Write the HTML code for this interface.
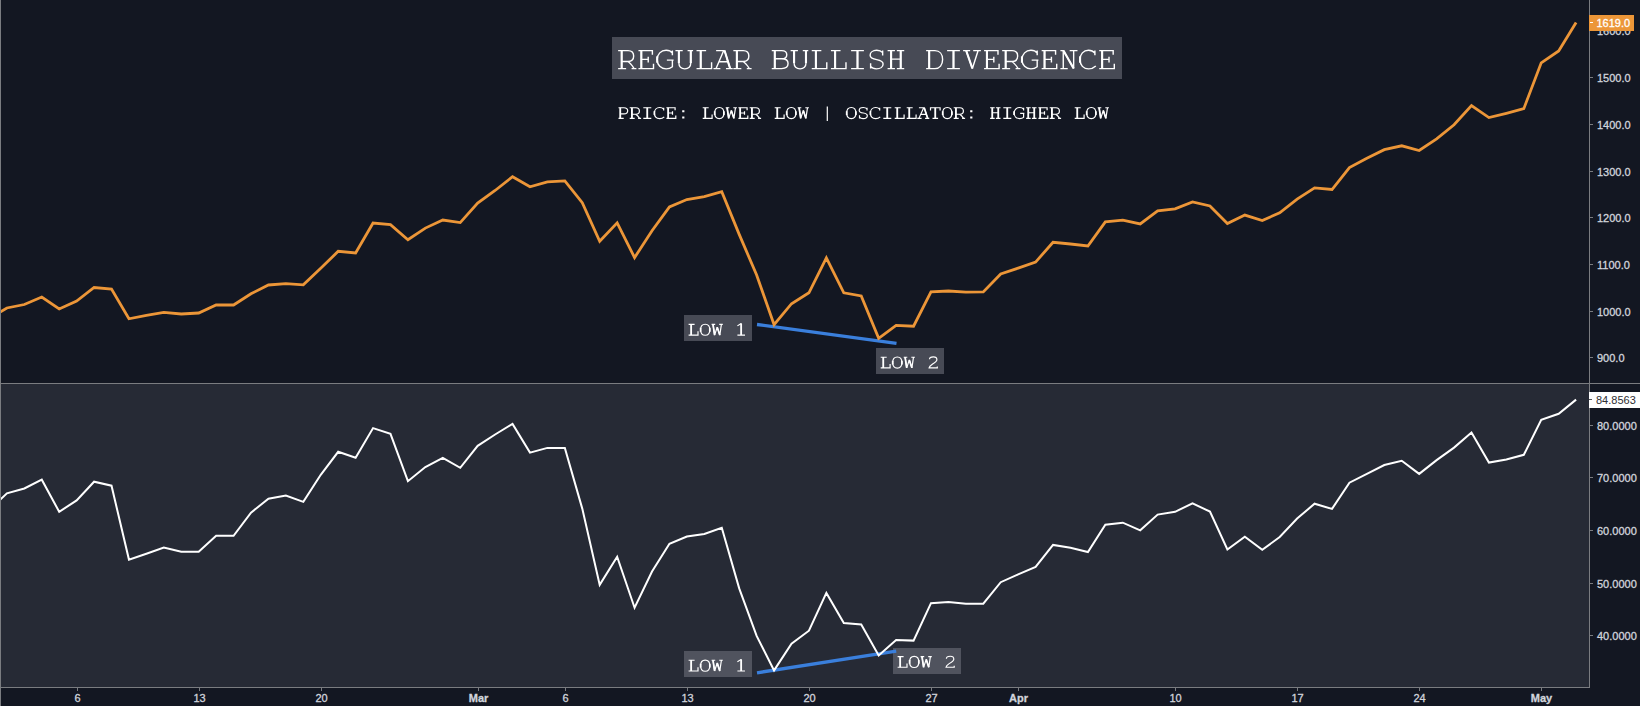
<!DOCTYPE html>
<html><head><meta charset="utf-8">
<style>
html,body{margin:0;padding:0;background:#131722;width:1640px;height:706px;overflow:hidden}
svg{display:block}
.ax text{font-family:"Liberation Sans",sans-serif;font-size:11px;fill:#d1d4dc;stroke:#d1d4dc;stroke-width:0.3}
.mono{font-family:"Liberation Mono",monospace;fill:#ffffff}
</style></head><body>
<svg width="1640" height="706" viewBox="0 0 1640 706">
<rect x="0" y="0" width="1640" height="706" fill="#131722"/>
<rect x="1" y="384" width="1588" height="303" fill="#262a35"/>
<!-- title -->
<rect x="612" y="37" width="510" height="42" fill="#474a55"/>
<g transform="translate(617.50,68.55) scale(0.03200,0.03050)" fill="none" stroke="#fff" stroke-width="43.7" stroke-linecap="butt" stroke-linejoin="miter" stroke-miterlimit="2.5"><path transform="translate(0,0)" d="M20,-590H330C450,-590 505,-520 505,-410C505,-300 440,-230 330,-230H130M130,-590V0M20,0H270M320,-230C390,-190 470,-80 520,0M440,0H590"/><path transform="translate(0,0)" d="M130,-590V0" stroke-width="65.6"/><path transform="translate(600,0)" d="M55,-590H490V-450M145,-590V0M55,0H525V-160M145,-300H360M360,-390V-200"/><path transform="translate(600,0)" d="M145,-590V0" stroke-width="65.6"/><path transform="translate(1200,0)" d="M515,-590V-440M515,-510C470,-570 400,-600 320,-600C160,-600 40,-470 40,-295C40,-110 160,10 320,10C400,10 470,-20 515,-60V-276M343,-276H553"/><path transform="translate(1200,0)" d="M40,-400V-190" stroke-width="65.6"/><path transform="translate(1800,0)" d="M10,-590H238M390,-590H562M118,-590V-180C118,-60 190,8 304,8C418,8 490,-60 490,-180V-590"/><path transform="translate(1800,0)" d="M118,-590V-180M490,-590V-180" stroke-width="65.6"/><path transform="translate(2400,0)" d="M70,-590H370M200,-590V0M70,0H540V-210"/><path transform="translate(2400,0)" d="M200,-590V0" stroke-width="65.6"/><path transform="translate(3000,0)" d="M82,-590H350M320,-590L80,0M345,-590L520,0M0,0H215M390,0H600M171,-224H454"/><path transform="translate(3000,0)" d="M345,-590L520,0" stroke-width="65.6"/><path transform="translate(3600,0)" d="M20,-590H330C450,-590 505,-520 505,-410C505,-300 440,-230 330,-230H130M130,-590V0M20,0H270M320,-230C390,-190 470,-80 520,0M440,0H590"/><path transform="translate(3600,0)" d="M130,-590V0" stroke-width="65.6"/><path transform="translate(4800,0)" d="M20,-590H330C440,-590 490,-540 490,-455C490,-370 430,-320 330,-320H115M330,-320C460,-320 530,-260 530,-165C530,-60 460,0 330,0H20M115,-590V0"/><path transform="translate(4800,0)" d="M115,-590V0" stroke-width="65.6"/><path transform="translate(5400,0)" d="M10,-590H238M390,-590H562M118,-590V-180C118,-60 190,8 304,8C418,8 490,-60 490,-180V-590"/><path transform="translate(5400,0)" d="M118,-590V-180M490,-590V-180" stroke-width="65.6"/><path transform="translate(6000,0)" d="M70,-590H370M200,-590V0M70,0H540V-210"/><path transform="translate(6000,0)" d="M200,-590V0" stroke-width="65.6"/><path transform="translate(6600,0)" d="M70,-590H370M200,-590V0M70,0H540V-210"/><path transform="translate(6600,0)" d="M200,-590V0" stroke-width="65.6"/><path transform="translate(7200,0)" d="M100,-590H500M300,-590V0M100,0H500"/><path transform="translate(7200,0)" d="M300,-590V0" stroke-width="65.6"/><path transform="translate(7800,0)" d="M486,-590V-430M486,-520C440,-575 380,-600 300,-600C180,-600 95,-530 95,-440C95,-350 170,-320 300,-295C430,-270 500,-230 500,-150C500,-50 415,10 290,10C210,10 145,-20 110,-70M110,-170V0"/><path transform="translate(8400,0)" d="M40,-590H270M330,-590H560M150,-590V0M450,-590V0M40,0H270M330,0H560M150,-310H450"/><path transform="translate(8400,0)" d="M150,-590V0M450,-590V0" stroke-width="65.6"/><path transform="translate(9600,0)" d="M45,-590H320C470,-590 560,-470 560,-295C560,-120 470,0 320,0H45M140,-590V0"/><path transform="translate(9600,0)" d="M140,-590V0" stroke-width="65.6"/><path transform="translate(10200,0)" d="M100,-590H500M300,-590V0M100,0H500"/><path transform="translate(10200,0)" d="M300,-590V0" stroke-width="65.6"/><path transform="translate(10800,0)" d="M0,-590H220M315,-590H555M95,-590L290,0L470,-590"/><path transform="translate(10800,0)" d="M95,-590L290,0" stroke-width="65.6"/><path transform="translate(11400,0)" d="M55,-590H490V-450M145,-590V0M55,0H525V-160M145,-300H360M360,-390V-200"/><path transform="translate(11400,0)" d="M145,-590V0" stroke-width="65.6"/><path transform="translate(12000,0)" d="M20,-590H330C450,-590 505,-520 505,-410C505,-300 440,-230 330,-230H130M130,-590V0M20,0H270M320,-230C390,-190 470,-80 520,0M440,0H590"/><path transform="translate(12000,0)" d="M130,-590V0" stroke-width="65.6"/><path transform="translate(12600,0)" d="M515,-590V-440M515,-510C470,-570 400,-600 320,-600C160,-600 40,-470 40,-295C40,-110 160,10 320,10C400,10 470,-20 515,-60V-276M343,-276H553"/><path transform="translate(12600,0)" d="M40,-400V-190" stroke-width="65.6"/><path transform="translate(13200,0)" d="M55,-590H490V-450M145,-590V0M55,0H525V-160M145,-300H360M360,-390V-200"/><path transform="translate(13200,0)" d="M145,-590V0" stroke-width="65.6"/><path transform="translate(13800,0)" d="M40,-590H135L455,0V-590M40,0H270M330,-590H575M130,-590V0"/><path transform="translate(13800,0)" d="M135,-590L455,0" stroke-width="65.6"/><path transform="translate(14400,0)" d="M519,-590V-438M519,-510C470,-570 400,-600 320,-600C160,-600 55,-470 55,-295C55,-110 160,10 320,10C420,10 490,-30 547,-86"/><path transform="translate(14400,0)" d="M55,-400V-190" stroke-width="65.6"/><path transform="translate(15000,0)" d="M55,-590H490V-450M145,-590V0M55,0H525V-160M145,-300H360M360,-390V-200"/><path transform="translate(15000,0)" d="M145,-590V0" stroke-width="65.6"/></g>
<g transform="translate(617.30,118.40) scale(0.02000,0.01814)" fill="none" stroke="#fff" stroke-width="60.0" stroke-linecap="butt" stroke-linejoin="miter" stroke-miterlimit="2.5"><path transform="translate(0,0)" d="M60,-590H330C450,-590 520,-520 520,-420C520,-320 450,-250 330,-250H150M150,-590V0M60,0H320"/><path transform="translate(0,0)" d="M150,-590V0" stroke-width="85.0"/><path transform="translate(600,0)" d="M20,-590H330C450,-590 505,-520 505,-410C505,-300 440,-230 330,-230H130M130,-590V0M20,0H270M320,-230C390,-190 470,-80 520,0M440,0H590"/><path transform="translate(600,0)" d="M130,-590V0" stroke-width="85.0"/><path transform="translate(1200,0)" d="M100,-590H500M300,-590V0M100,0H500"/><path transform="translate(1200,0)" d="M300,-590V0" stroke-width="85.0"/><path transform="translate(1800,0)" d="M519,-590V-438M519,-510C470,-570 400,-600 320,-600C160,-600 55,-470 55,-295C55,-110 160,10 320,10C420,10 490,-30 547,-86"/><path transform="translate(1800,0)" d="M55,-400V-190" stroke-width="85.0"/><path transform="translate(2400,0)" d="M55,-590H490V-450M145,-590V0M55,0H525V-160M145,-300H360M360,-390V-200"/><path transform="translate(2400,0)" d="M145,-590V0" stroke-width="85.0"/><path transform="translate(3000,0)" d="M245,-450h110v110h-110ZM245,-110h110v110h-110Z" fill="#fff" stroke="none"/><path transform="translate(4200,0)" d="M70,-590H370M200,-590V0M70,0H540V-210"/><path transform="translate(4200,0)" d="M200,-590V0" stroke-width="85.0"/><path transform="translate(4800,0)" d="M300,-600C440,-600 530,-470 530,-295C530,-120 440,10 300,10C160,10 70,-120 70,-295C70,-470 160,-600 300,-600Z"/><path transform="translate(4800,0)" d="M70,-400V-190M530,-400V-190" stroke-width="85.0"/><path transform="translate(5400,0)" d="M20,-590H200M400,-590H580M90,-590L170,0L300,-440L430,0L510,-590"/><path transform="translate(5400,0)" d="M90,-590L170,0M300,-440L430,0" stroke-width="85.0"/><path transform="translate(6000,0)" d="M55,-590H490V-450M145,-590V0M55,0H525V-160M145,-300H360M360,-390V-200"/><path transform="translate(6000,0)" d="M145,-590V0" stroke-width="85.0"/><path transform="translate(6600,0)" d="M20,-590H330C450,-590 505,-520 505,-410C505,-300 440,-230 330,-230H130M130,-590V0M20,0H270M320,-230C390,-190 470,-80 520,0M440,0H590"/><path transform="translate(6600,0)" d="M130,-590V0" stroke-width="85.0"/><path transform="translate(7800,0)" d="M70,-590H370M200,-590V0M70,0H540V-210"/><path transform="translate(7800,0)" d="M200,-590V0" stroke-width="85.0"/><path transform="translate(8400,0)" d="M300,-600C440,-600 530,-470 530,-295C530,-120 440,10 300,10C160,10 70,-120 70,-295C70,-470 160,-600 300,-600Z"/><path transform="translate(8400,0)" d="M70,-400V-190M530,-400V-190" stroke-width="85.0"/><path transform="translate(9000,0)" d="M20,-590H200M400,-590H580M90,-590L170,0L300,-440L430,0L510,-590"/><path transform="translate(9000,0)" d="M90,-590L170,0M300,-440L430,0" stroke-width="85.0"/><path transform="translate(10200,0)" d="M300,-660V140"/><path transform="translate(11400,0)" d="M300,-600C440,-600 530,-470 530,-295C530,-120 440,10 300,10C160,10 70,-120 70,-295C70,-470 160,-600 300,-600Z"/><path transform="translate(11400,0)" d="M70,-400V-190M530,-400V-190" stroke-width="85.0"/><path transform="translate(12000,0)" d="M486,-590V-430M486,-520C440,-575 380,-600 300,-600C180,-600 95,-530 95,-440C95,-350 170,-320 300,-295C430,-270 500,-230 500,-150C500,-50 415,10 290,10C210,10 145,-20 110,-70M110,-170V0"/><path transform="translate(12600,0)" d="M519,-590V-438M519,-510C470,-570 400,-600 320,-600C160,-600 55,-470 55,-295C55,-110 160,10 320,10C420,10 490,-30 547,-86"/><path transform="translate(12600,0)" d="M55,-400V-190" stroke-width="85.0"/><path transform="translate(13200,0)" d="M100,-590H500M300,-590V0M100,0H500"/><path transform="translate(13200,0)" d="M300,-590V0" stroke-width="85.0"/><path transform="translate(13800,0)" d="M70,-590H370M200,-590V0M70,0H540V-210"/><path transform="translate(13800,0)" d="M200,-590V0" stroke-width="85.0"/><path transform="translate(14400,0)" d="M70,-590H370M200,-590V0M70,0H540V-210"/><path transform="translate(14400,0)" d="M200,-590V0" stroke-width="85.0"/><path transform="translate(15000,0)" d="M82,-590H350M320,-590L80,0M345,-590L520,0M0,0H215M390,0H600M171,-224H454"/><path transform="translate(15000,0)" d="M345,-590L520,0" stroke-width="85.0"/><path transform="translate(15600,0)" d="M60,-440V-590H540V-440M300,-590V0M160,0H440"/><path transform="translate(15600,0)" d="M300,-590V0" stroke-width="85.0"/><path transform="translate(16200,0)" d="M300,-600C440,-600 530,-470 530,-295C530,-120 440,10 300,10C160,10 70,-120 70,-295C70,-470 160,-600 300,-600Z"/><path transform="translate(16200,0)" d="M70,-400V-190M530,-400V-190" stroke-width="85.0"/><path transform="translate(16800,0)" d="M20,-590H330C450,-590 505,-520 505,-410C505,-300 440,-230 330,-230H130M130,-590V0M20,0H270M320,-230C390,-190 470,-80 520,0M440,0H590"/><path transform="translate(16800,0)" d="M130,-590V0" stroke-width="85.0"/><path transform="translate(17400,0)" d="M245,-450h110v110h-110ZM245,-110h110v110h-110Z" fill="#fff" stroke="none"/><path transform="translate(18600,0)" d="M40,-590H270M330,-590H560M150,-590V0M450,-590V0M40,0H270M330,0H560M150,-310H450"/><path transform="translate(18600,0)" d="M150,-590V0M450,-590V0" stroke-width="85.0"/><path transform="translate(19200,0)" d="M100,-590H500M300,-590V0M100,0H500"/><path transform="translate(19200,0)" d="M300,-590V0" stroke-width="85.0"/><path transform="translate(19800,0)" d="M515,-590V-440M515,-510C470,-570 400,-600 320,-600C160,-600 40,-470 40,-295C40,-110 160,10 320,10C400,10 470,-20 515,-60V-276M343,-276H553"/><path transform="translate(19800,0)" d="M40,-400V-190" stroke-width="85.0"/><path transform="translate(20400,0)" d="M40,-590H270M330,-590H560M150,-590V0M450,-590V0M40,0H270M330,0H560M150,-310H450"/><path transform="translate(20400,0)" d="M150,-590V0M450,-590V0" stroke-width="85.0"/><path transform="translate(21000,0)" d="M55,-590H490V-450M145,-590V0M55,0H525V-160M145,-300H360M360,-390V-200"/><path transform="translate(21000,0)" d="M145,-590V0" stroke-width="85.0"/><path transform="translate(21600,0)" d="M20,-590H330C450,-590 505,-520 505,-410C505,-300 440,-230 330,-230H130M130,-590V0M20,0H270M320,-230C390,-190 470,-80 520,0M440,0H590"/><path transform="translate(21600,0)" d="M130,-590V0" stroke-width="85.0"/><path transform="translate(22800,0)" d="M70,-590H370M200,-590V0M70,0H540V-210"/><path transform="translate(22800,0)" d="M200,-590V0" stroke-width="85.0"/><path transform="translate(23400,0)" d="M300,-600C440,-600 530,-470 530,-295C530,-120 440,10 300,10C160,10 70,-120 70,-295C70,-470 160,-600 300,-600Z"/><path transform="translate(23400,0)" d="M70,-400V-190M530,-400V-190" stroke-width="85.0"/><path transform="translate(24000,0)" d="M20,-590H200M400,-590H580M90,-590L170,0L300,-440L430,0L510,-590"/><path transform="translate(24000,0)" d="M90,-590L170,0M300,-440L430,0" stroke-width="85.0"/></g>
<!-- upper labels -->
<rect x="684" y="315" width="68" height="26" fill="#474a55"/>
<g transform="translate(687.20,335.10) scale(0.02000,0.01814)" fill="none" stroke="#fff" stroke-width="60.0" stroke-linecap="butt" stroke-linejoin="miter" stroke-miterlimit="2.5"><path transform="translate(0,0)" d="M70,-590H370M200,-590V0M70,0H540V-210"/><path transform="translate(0,0)" d="M200,-590V0" stroke-width="85.0"/><path transform="translate(600,0)" d="M300,-600C440,-600 530,-470 530,-295C530,-120 440,10 300,10C160,10 70,-120 70,-295C70,-470 160,-600 300,-600Z"/><path transform="translate(600,0)" d="M70,-400V-190M530,-400V-190" stroke-width="85.0"/><path transform="translate(1200,0)" d="M20,-590H200M400,-590H580M90,-590L170,0L300,-440L430,0L510,-590"/><path transform="translate(1200,0)" d="M90,-590L170,0M300,-440L430,0" stroke-width="85.0"/><path transform="translate(2400,0)" d="M300,-640V0M110,0H490M300,-640L110,-510"/><path transform="translate(2400,0)" d="M300,-640V0" stroke-width="85.0"/></g>
<rect x="876" y="348" width="68" height="26" fill="#474a55"/>
<g transform="translate(879.30,367.90) scale(0.02000,0.01814)" fill="none" stroke="#fff" stroke-width="60.0" stroke-linecap="butt" stroke-linejoin="miter" stroke-miterlimit="2.5"><path transform="translate(0,0)" d="M70,-590H370M200,-590V0M70,0H540V-210"/><path transform="translate(0,0)" d="M200,-590V0" stroke-width="85.0"/><path transform="translate(600,0)" d="M300,-600C440,-600 530,-470 530,-295C530,-120 440,10 300,10C160,10 70,-120 70,-295C70,-470 160,-600 300,-600Z"/><path transform="translate(600,0)" d="M70,-400V-190M530,-400V-190" stroke-width="85.0"/><path transform="translate(1200,0)" d="M20,-590H200M400,-590H580M90,-590L170,0L300,-440L430,0L510,-590"/><path transform="translate(1200,0)" d="M90,-590L170,0M300,-440L430,0" stroke-width="85.0"/><path transform="translate(2400,0)" d="M110,-470C110,-560 200,-610 300,-610C410,-610 480,-540 480,-450C480,-360 400,-300 250,-200C160,-140 100,-80 90,0H500V-80"/></g>
<line x1="757" y1="324.5" x2="896.5" y2="343.3" stroke="#3a7fdc" stroke-width="3.3"/>
<!-- lower labels -->
<rect x="684" y="651" width="68" height="26" fill="#50535e"/>
<g transform="translate(687.20,671.00) scale(0.02000,0.01814)" fill="none" stroke="#fff" stroke-width="60.0" stroke-linecap="butt" stroke-linejoin="miter" stroke-miterlimit="2.5"><path transform="translate(0,0)" d="M70,-590H370M200,-590V0M70,0H540V-210"/><path transform="translate(0,0)" d="M200,-590V0" stroke-width="85.0"/><path transform="translate(600,0)" d="M300,-600C440,-600 530,-470 530,-295C530,-120 440,10 300,10C160,10 70,-120 70,-295C70,-470 160,-600 300,-600Z"/><path transform="translate(600,0)" d="M70,-400V-190M530,-400V-190" stroke-width="85.0"/><path transform="translate(1200,0)" d="M20,-590H200M400,-590H580M90,-590L170,0L300,-440L430,0L510,-590"/><path transform="translate(1200,0)" d="M90,-590L170,0M300,-440L430,0" stroke-width="85.0"/><path transform="translate(2400,0)" d="M300,-640V0M110,0H490M300,-640L110,-510"/><path transform="translate(2400,0)" d="M300,-640V0" stroke-width="85.0"/></g>
<rect x="893" y="648" width="68" height="26" fill="#50535e"/>
<g transform="translate(896.20,667.30) scale(0.02000,0.01814)" fill="none" stroke="#fff" stroke-width="60.0" stroke-linecap="butt" stroke-linejoin="miter" stroke-miterlimit="2.5"><path transform="translate(0,0)" d="M70,-590H370M200,-590V0M70,0H540V-210"/><path transform="translate(0,0)" d="M200,-590V0" stroke-width="85.0"/><path transform="translate(600,0)" d="M300,-600C440,-600 530,-470 530,-295C530,-120 440,10 300,10C160,10 70,-120 70,-295C70,-470 160,-600 300,-600Z"/><path transform="translate(600,0)" d="M70,-400V-190M530,-400V-190" stroke-width="85.0"/><path transform="translate(1200,0)" d="M20,-590H200M400,-590H580M90,-590L170,0L300,-440L430,0L510,-590"/><path transform="translate(1200,0)" d="M90,-590L170,0M300,-440L430,0" stroke-width="85.0"/><path transform="translate(2400,0)" d="M110,-470C110,-560 200,-610 300,-610C410,-610 480,-540 480,-450C480,-360 400,-300 250,-200C160,-140 100,-80 90,0H500V-80"/></g>
<line x1="757" y1="672.8" x2="896.2" y2="651.2" stroke="#3a7fdc" stroke-width="3.3"/>
<polyline points="-10.54,318.20 6.90,308.00 24.34,304.50 41.77,297.00 59.21,309.00 76.64,301.00 94.08,287.50 111.51,289.00 128.95,318.80 146.38,315.30 163.82,312.30 181.26,314.00 198.69,313.00 216.13,305.00 233.56,305.00 251.00,293.80 268.43,285.00 285.87,283.70 303.31,284.80 320.74,268.30 338.18,251.30 355.61,253.00 373.05,223.00 390.48,224.70 407.92,239.70 425.35,228.10 442.79,220.00 460.23,222.60 477.66,203.00 495.10,190.50 512.53,176.70 529.97,186.80 547.40,181.80 564.84,180.90 582.27,202.70 599.71,241.30 617.15,222.90 634.58,257.60 652.02,230.70 669.45,207.00 686.89,199.50 704.32,196.70 721.76,191.60 739.20,234.40 756.63,275.00 774.07,324.60 791.50,303.70 808.94,292.80 826.37,257.80 843.81,292.80 861.24,295.90 878.68,338.30 896.12,325.40 913.55,326.20 930.99,291.90 948.42,291.00 965.86,292.20 983.29,291.90 1000.73,274.00 1018.16,268.10 1035.60,262.10 1053.04,242.30 1070.47,244.00 1087.91,246.00 1105.34,221.90 1122.78,220.20 1140.21,223.90 1157.65,210.90 1175.09,208.80 1192.52,202.00 1209.96,206.00 1227.39,223.60 1244.83,215.10 1262.26,220.50 1279.70,212.80 1297.13,199.20 1314.57,187.90 1332.01,189.50 1349.44,167.60 1366.88,158.30 1384.31,149.70 1401.75,145.80 1419.18,150.50 1436.62,138.80 1454.05,124.80 1471.49,105.60 1488.93,117.60 1506.36,113.30 1523.80,108.70 1541.23,62.80 1558.67,50.90 1576.10,22.40" fill="none" stroke="#ec9638" stroke-width="2.8" stroke-linejoin="miter"/>
<polyline points="-10.54,510.10 6.90,493.30 24.34,488.50 41.77,479.70 59.21,511.80 76.64,500.40 94.08,481.70 111.51,485.70 128.95,559.60 146.38,553.70 163.82,547.60 181.26,551.80 198.69,551.80 216.13,535.80 233.56,535.80 251.00,512.60 268.43,498.70 285.87,495.60 303.31,501.90 320.74,474.80 338.18,451.80 355.61,457.80 373.05,428.10 390.48,433.80 407.92,481.20 425.35,467.00 442.79,457.80 460.23,467.80 477.66,445.80 495.10,434.50 512.53,423.90 529.97,452.60 547.40,447.90 564.84,447.90 582.27,508.60 599.71,584.90 617.15,556.80 634.58,607.70 652.02,571.50 669.45,543.80 686.89,536.50 704.32,533.90 721.76,527.80 739.20,588.40 756.63,635.90 774.07,670.40 791.50,643.80 808.94,630.70 826.37,592.90 843.81,623.00 861.24,624.40 878.68,655.40 896.12,639.90 913.55,640.60 930.99,603.20 948.42,602.00 965.86,603.70 983.29,603.70 1000.73,582.20 1018.16,574.40 1035.60,566.90 1053.04,544.90 1070.47,547.80 1087.91,552.00 1105.34,524.70 1122.78,522.70 1140.21,530.30 1157.65,514.60 1175.09,511.80 1192.52,503.30 1209.96,511.60 1227.39,549.50 1244.83,536.80 1262.26,549.80 1279.70,537.00 1297.13,518.60 1314.57,503.70 1332.01,508.90 1349.44,482.70 1366.88,473.90 1384.31,465.00 1401.75,460.80 1419.18,473.90 1436.62,460.10 1454.05,447.60 1471.49,432.60 1488.93,462.60 1506.36,459.50 1523.80,454.80 1541.23,419.90 1558.67,413.80 1576.10,399.60" fill="none" stroke="#ffffff" stroke-width="2" stroke-linejoin="miter"/>
<rect x="1" y="0" width="0" height="0"/>
<!-- frame lines -->
<rect x="0" y="0" width="1" height="706" fill="#7a7c80"/>
<rect x="0" y="383" width="1640" height="1" fill="#7a7c80"/>
<rect x="1589" y="0" width="1" height="688" fill="#7a7c80"/>
<rect x="0" y="687" width="1590" height="1" fill="#7a7c80"/>
<g class="ax"><rect x="77" y="688" width="1" height="3" fill="#7a7c80"/><text x="77.5" y="702" text-anchor="middle" font-weight="normal">6</text><rect x="199" y="688" width="1" height="3" fill="#7a7c80"/><text x="199.5" y="702" text-anchor="middle" font-weight="normal">13</text><rect x="321" y="688" width="1" height="3" fill="#7a7c80"/><text x="321.5" y="702" text-anchor="middle" font-weight="normal">20</text><rect x="478" y="688" width="1" height="3" fill="#7a7c80"/><text x="478.5" y="702" text-anchor="middle" font-weight="bold">Mar</text><rect x="565" y="688" width="1" height="3" fill="#7a7c80"/><text x="565.5" y="702" text-anchor="middle" font-weight="normal">6</text><rect x="687" y="688" width="1" height="3" fill="#7a7c80"/><text x="687.5" y="702" text-anchor="middle" font-weight="normal">13</text><rect x="809" y="688" width="1" height="3" fill="#7a7c80"/><text x="809.5" y="702" text-anchor="middle" font-weight="normal">20</text><rect x="931" y="688" width="1" height="3" fill="#7a7c80"/><text x="931.5" y="702" text-anchor="middle" font-weight="normal">27</text><rect x="1018" y="688" width="1" height="3" fill="#7a7c80"/><text x="1018.5" y="702" text-anchor="middle" font-weight="bold">Apr</text><rect x="1175" y="688" width="1" height="3" fill="#7a7c80"/><text x="1175.5" y="702" text-anchor="middle" font-weight="normal">10</text><rect x="1297" y="688" width="1" height="3" fill="#7a7c80"/><text x="1297.5" y="702" text-anchor="middle" font-weight="normal">17</text><rect x="1419" y="688" width="1" height="3" fill="#7a7c80"/><text x="1419.5" y="702" text-anchor="middle" font-weight="normal">24</text><rect x="1541" y="688" width="1" height="3" fill="#7a7c80"/><text x="1541.5" y="702" text-anchor="middle" font-weight="bold">May</text><rect x="1590" y="357" width="3" height="1" fill="#7a7c80"/><text x="1597" y="362">900.0</text><rect x="1590" y="311" width="3" height="1" fill="#7a7c80"/><text x="1597" y="316">1000.0</text><rect x="1590" y="264" width="3" height="1" fill="#7a7c80"/><text x="1597" y="269">1100.0</text><rect x="1590" y="217" width="3" height="1" fill="#7a7c80"/><text x="1597" y="222">1200.0</text><rect x="1590" y="171" width="3" height="1" fill="#7a7c80"/><text x="1597" y="176">1300.0</text><rect x="1590" y="124" width="3" height="1" fill="#7a7c80"/><text x="1597" y="129">1400.0</text><rect x="1590" y="77" width="3" height="1" fill="#7a7c80"/><text x="1597" y="82">1500.0</text><rect x="1590" y="30" width="3" height="1" fill="#7a7c80"/><text x="1597" y="35">1600.0</text><rect x="1590" y="635" width="3" height="1" fill="#7a7c80"/><text x="1597" y="640">40.0000</text><rect x="1590" y="583" width="3" height="1" fill="#7a7c80"/><text x="1597" y="588">50.0000</text><rect x="1590" y="530" width="3" height="1" fill="#7a7c80"/><text x="1597" y="535">60.0000</text><rect x="1590" y="477" width="3" height="1" fill="#7a7c80"/><text x="1597" y="482">70.0000</text><rect x="1590" y="425" width="3" height="1" fill="#7a7c80"/><text x="1597" y="430">80.0000</text></g>
<!-- price tags -->
<rect x="1589" y="15" width="45" height="16" fill="#ec9638"/>
<line x1="1590" y1="22.5" x2="1593" y2="22.5" stroke="#ffffff"/>
<text class="axt" x="1596.5" y="26.5" font-family="Liberation Sans" font-size="11" fill="#ffffff" stroke="#ffffff" stroke-width="0.3">1619.0</text>
<rect x="1589" y="392" width="51" height="16" fill="#ffffff"/>
<rect x="1589" y="399" width="3" height="1" fill="#555558"/>
<text x="1596" y="403.5" font-family="Liberation Sans" font-size="11" fill="#303034">84.8563</text>
</svg>
</body></html>
